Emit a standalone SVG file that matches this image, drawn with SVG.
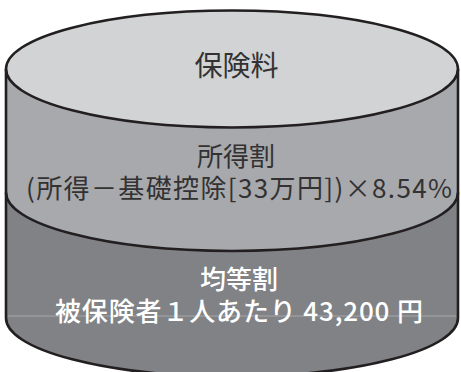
<svg xmlns="http://www.w3.org/2000/svg" width="461" height="372" viewBox="0 0 461 372">
  <style>
    .edge { fill: none; stroke: #231f20; stroke-width: 2.6; }
    .lbl { font-family: "Noto Sans CJK JP", "Noto Sans", sans-serif; font-size: 26px; text-anchor: middle; }
    .dark { fill: #333132; }
    .light { fill: #ffffff; font-weight: 500; }
  </style>
  <rect width="461" height="372" fill="#ffffff"/>
  <g id="bottom-section">
    <path d="M6,69 L6,318 A226,58.5 0 0 0 458,318 L458,69 Z" fill="#808285"/>
    <line x1="8" y1="316" x2="456" y2="316" stroke="#a6a7aa" stroke-width="1"/>
    <text class="lbl light" x="239" y="289">均等割</text>
    <text class="lbl light" x="239" y="321" textLength="368" lengthAdjust="spacing">被保険者１人あたり 43,200 円</text>
  </g>
  <g id="middle-section">
    <path d="M6,69 L6,192.5 A226,58.5 0 0 0 458,192.5 L458,69 Z" fill="#a7a9ac"/>
    <path class="edge" d="M6,192.5 A226,58.5 0 0 0 458,192.5"/>
    <text class="lbl dark" x="236" y="166">所得割</text>
    <text class="lbl dark" x="239" y="198" textLength="426" lengthAdjust="spacing">(所得－基礎控除[33万円])×8.54%</text>
  </g>
  <g id="top-section">
    <ellipse cx="232" cy="69" rx="226" ry="58.5" fill="#d1d3d4"/>
    <ellipse class="edge" cx="232" cy="69" rx="226" ry="58.5"/>
    <text class="lbl dark" x="236.5" y="76" style="font-size:28px">保険料</text>
  </g>
  <g id="outline">
    <path class="edge" d="M6,69 L6,318 A226,58.5 0 0 0 458,318 L458,69"/>
  </g>
</svg>
